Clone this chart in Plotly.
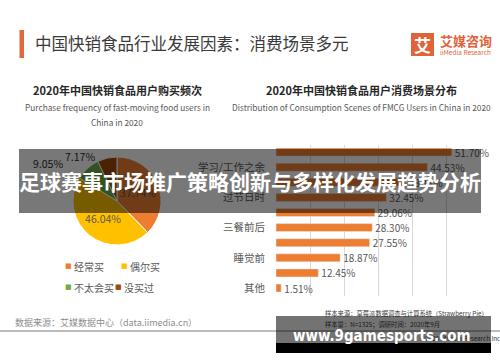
import plotly.graph_objects as go

W, H = 500, 362

# ---------------- data ----------------
freq_labels = ["经常买", "偶尔买", "不太会买", "没买过"]
freq_values = [37.74, 46.04, 9.05, 7.17]
freq_colors = ["#ED7D31", "#FFC000", "#70AD47", "#9E480E"]

scene_values = [51.70, 44.53, 38.11, 32.45, 29.06, 28.30, 27.55, 18.87, 12.45, 1.51]
scene_tick_labels = ["学习/工作之余", "过节日时", "三餐前后", "睡觉前", "其他"]
scene_tick_every = 2  # every second bar carries a category name

bar_color = "#ED7D31"
FONT = "Noto Sans CJK SC"
GRAY = "#595959"


def px(x):
    return x / W


def py(y):
    return 1 - y / H


fig = go.Figure()

# ---------------- pie ----------------
fig.add_trace(go.Pie(
    labels=freq_labels,
    values=freq_values,
    marker=dict(colors=freq_colors, line=dict(color="white", width=1)),
    sort=False,
    direction="clockwise",
    rotation=0,
    textinfo="none",
    texttemplate=["%{value:.2f}%", "%{value:.2f}%", "", ""],
    textposition="inside",
    insidetextorientation="horizontal",
    textfont=dict(family=FONT, size=10.5, color=GRAY),
    domain=dict(x=[px(73), px(161)], y=[py(245), py(157)]),
    showlegend=False,
    hoverinfo="label+percent",
))

# ---------------- bars ----------------
positions = list(range(len(scene_values)))
fig.add_trace(go.Bar(
    x=scene_values,
    y=positions,
    orientation="h",
    marker=dict(color=bar_color),
    width=0.53,
    text=[f"{v:.2f}%" for v in scene_values],
    textposition="outside",
    constraintext="none",
    textfont=dict(family=FONT, size=10, color=GRAY),
    cliponaxis=False,
    showlegend=False,
    xaxis="x",
    yaxis="y",
))

tickvals = positions[scene_tick_every - 1::scene_tick_every]

fig.update_layout(
    width=W, height=H,
    margin=dict(l=0, r=0, t=0, b=0),
    paper_bgcolor="white",
    plot_bgcolor="white",
    font=dict(family=FONT, color=GRAY),
    xaxis=dict(
        domain=[px(276), px(480)],
        range=[0, 60],
        dtick=10,
        showgrid=True,
        gridcolor="#D9D9D9",
        gridwidth=1,
        zeroline=False,
        showline=False,
        showticklabels=False,
        ticks="",
        fixedrange=True,
    ),
    yaxis=dict(
        domain=[py(295.6), py(144.5)],
        range=[len(scene_values) - 0.5, -0.5],
        tickvals=tickvals,
        ticktext=scene_tick_labels,
        showgrid=False,
        zeroline=False,
        showline=False,
        ticks="",
        ticklabelstandoff=10,
        tickfont=dict(family=FONT, size=10.5, color=GRAY),
        fixedrange=True,
    ),
    bargap=0.47,
)

ann = []


def text(x, y, s, size, color=GRAY, anchor="left", bold=False, family=FONT, **kw):
    if bold:
        s = f"<b>{s}</b>"
    ann.append(dict(x=px(x), y=py(y), xref="paper", yref="paper", text=s,
                    showarrow=False, xanchor=anchor, yanchor="middle",
                    font=dict(family=family, size=size, color=color), **kw))


# header
text(33, 43, "中国快销食品行业发展因素：消费场景多元", 16.5, "#3A3A3A")
text(438, 41, "艾媒咨询", 13, "#E0633A", bold=True)
text(438, 52, "iiMedia Research", 6.5, "#E0633A")
text(422.5, 44.5, "艾", 17, "white", anchor="center", bold=True)

# sub titles
text(117, 90, "2020年中国快销食品用户购买频次", 11, "#262626", anchor="center", bold=True)
text(117, 107, "Purchase frequency of fast-moving food users in", 8.3, GRAY, anchor="center")
text(117, 122, "China in 2020", 8.3, GRAY, anchor="center")
text(361, 90, "2020年中国快销食品用户消费场景分布", 11, "#262626", anchor="center", bold=True)
text(361, 107, "Distribution of Consumption Scenes of FMCG Users in China in 2020", 8.3, GRAY, anchor="center")

# small pie labels (outside slices) - drawn dimmed since they lie under the banner
text(48, 163, f"{freq_values[2]:.2f}%", 10.5, "#2B2B2B", anchor="center")
text(80, 157, f"{freq_values[3]:.2f}%", 10.5, "#2B2B2B", anchor="center")

# pie legend
legend_pos = [(66, 266), (122, 266), (66, 287), (116, 287)]
for (lx, ly), lab, col in zip(legend_pos, freq_labels, freq_colors):
    text(lx + 2.5, ly, "■", 7, col, anchor="center", family="DejaVu Sans")
    text(lx + 6, ly, lab, 10, GRAY)

# footer
text(13, 322, "数据来源：艾媒数据中心（data.iimedia.cn）", 9, "#8C8C8C")
text(323, 313, "样本来源：草莓派数据调查与计算系统（Strawberry Pie）", 6.3, "#404040")
text(323, 324, "样本量：N=1325；调研时间：2020年9月", 6.3, "#404040")
text(503, 338, "©2020 iiMedia Research Inc", 6.3, "#404040", anchor="right")

# banner overlay
ann.append(dict(x=px(250), y=py(181), xref="paper", yref="paper",
                text="<b>足球赛事市场推广策略创新与多样化发展趋势分析</b>",
                showarrow=False, xanchor="center", yanchor="middle",
                width=462, height=64, borderpad=0, borderwidth=0,
                bgcolor="rgba(0,0,0,0.53)",
                font=dict(family=FONT, size=21, color="white")))

# watermark overlay
ann.append(dict(x=px(383.5), y=py(334.5), xref="paper", yref="paper", text=" ",
                showarrow=False, xanchor="center", yanchor="middle",
                width=215, height=37, borderpad=0, borderwidth=0,
                bgcolor="rgba(0,0,0,0.55)", font=dict(size=10)))
text(382, 336, "<b>www.9gamesports.com</b>", 15, "white", anchor="center",
     family="DejaVu Sans Condensed")

fig.update_layout(annotations=ann)

shapes = [
    # title accent bar
    dict(type="rect", xref="paper", yref="paper", x0=px(19.5), x1=px(24), y0=py(58), y1=py(30),
         fillcolor="#E2673A", line=dict(width=0), layer="above"),
    # logo square
    dict(type="rect", xref="paper", yref="paper", x0=px(411), x1=px(434), y0=py(56), y1=py(33),
         fillcolor="#E0633A", line=dict(width=0), layer="above"),
    # footer rule
    dict(type="line", xref="paper", yref="paper", x0=0, x1=1, y0=py(331), y1=py(331),
         line=dict(color="#A6A6A6", width=1.5), layer="above"),
    # watermark black strip
    dict(type="rect", xref="paper", yref="paper", x0=px(276), x1=px(491), y0=py(353), y1=py(343),
         fillcolor="black", line=dict(width=0), layer="above"),
]
fig.update_layout(shapes=shapes)

fig.write_html("out.html")
